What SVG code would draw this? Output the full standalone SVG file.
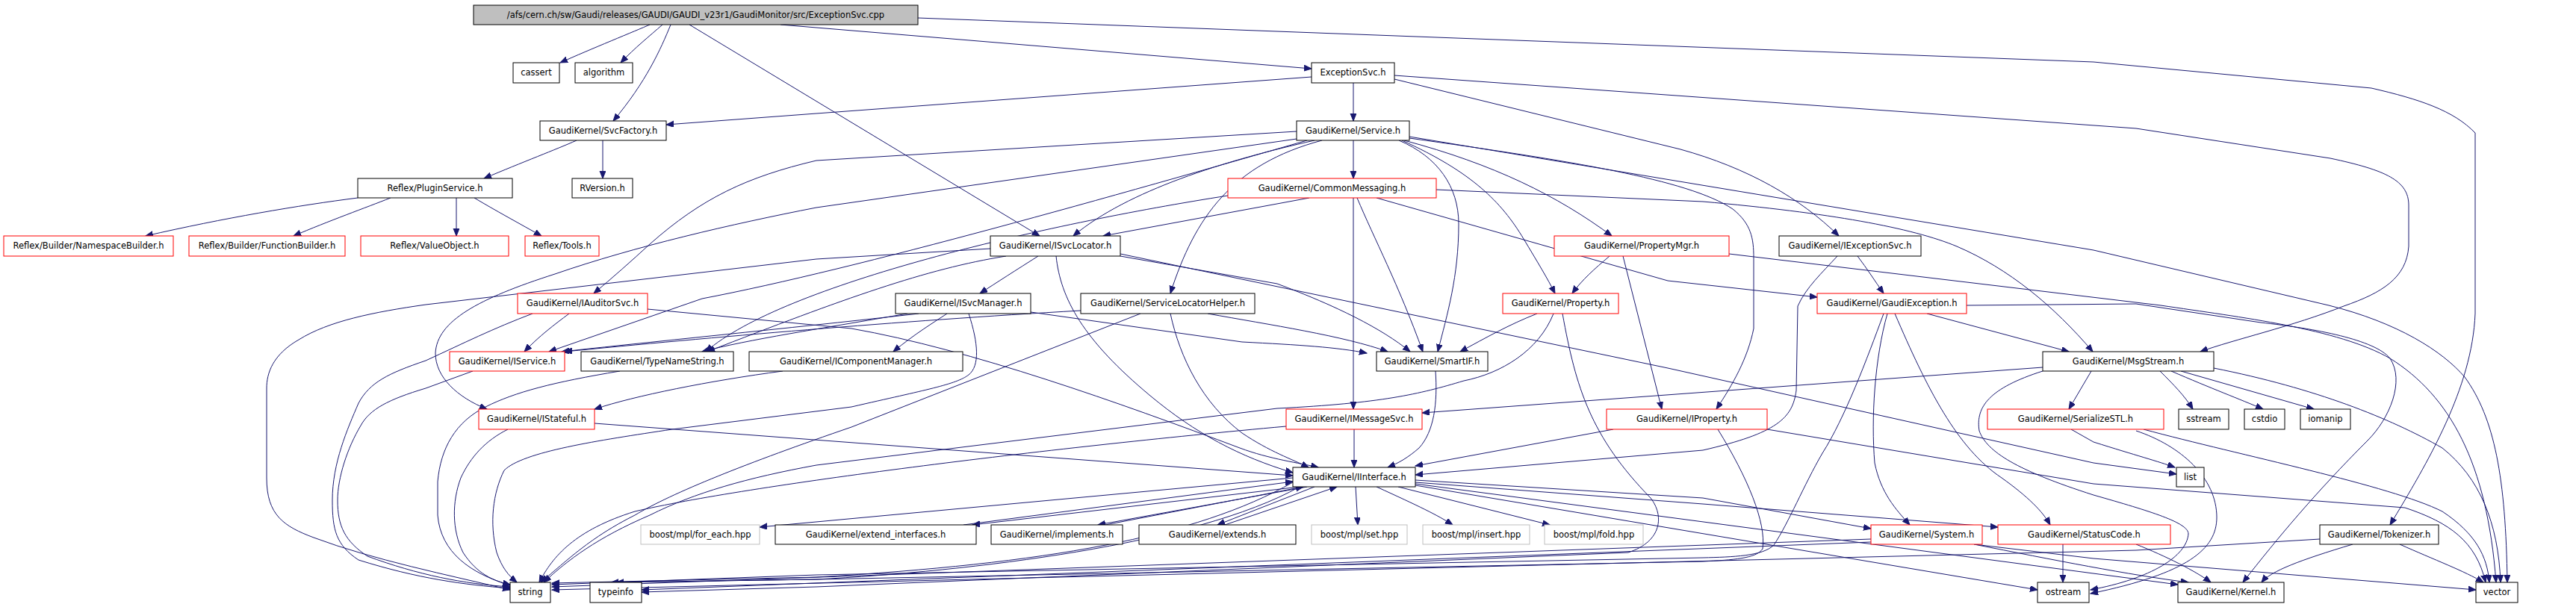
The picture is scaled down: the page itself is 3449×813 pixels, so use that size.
<svg xmlns="http://www.w3.org/2000/svg" width="3449" height="813" viewBox="0 0 3449 813">
<style>
.node rect{fill:#fff;stroke:#000;stroke-width:1}
.node.red rect{stroke:#f00}
.node.gray rect{stroke:#bfbfbf}
.node.root rect{fill:#bfbfbf}
.node text{font-family:"DejaVu Sans","Liberation Sans",sans-serif;font-size:11.5px;text-anchor:middle;fill:#000}
#edges path{fill:none;stroke:#191970;stroke-width:1;marker-end:url(#ah)}
</style>
<defs>
<marker id="ah" markerUnits="userSpaceOnUse" markerWidth="11" markerHeight="9" refX="10" refY="4" orient="auto"><path d="M0,0 L10,4 L0,8 z" fill="#191970" stroke="#191970"/></marker>
</defs>
<rect width="3449" height="813" fill="#fff"/>
<g id="edges">
<path d="M870,33 C852,41 790,66 750,84"/>
<path d="M887,33 C870,48 850,64 831,84"/>
<path d="M898,33 C885,65 865,110 821,162"/>
<path d="M923,33 L1392,316"/>
<path d="M1045,33 L1756,92"/>
<path d="M1229,24 L2803,83 L3175,118 C3240,133 3285,148 3314,178 L3314,420 C3310,520 3250,620 3200,703"/>
<path d="M1756,103 L1093,152 L892,167"/>
<path d="M1812,111 L1812,162"/>
<path d="M1867,106 L2250,200 C2340,225 2410,265 2462,316"/>
<path d="M1867,101 L2860,172 L3120,212 C3195,228 3225,242 3225,275 L3225,330 C3222,372 3190,392 3138,410 C3070,437 2990,455 2946,471"/>
<path d="M772,188 C745,200 700,217 648,239"/>
<path d="M807,188 L807,239"/>
<path d="M479,265 C400,275 300,292 195,316"/>
<path d="M523,265 C490,278 440,296 393,316"/>
<path d="M611,265 L611,316"/>
<path d="M635,265 C660,280 700,302 725,316"/>
<path d="M1812,188 L1812,239"/>
<path d="M1736,176 L1093,215 C1000,237 940,265 870,327 C845,350 820,372 795,393"/>
<path d="M1736,186 L1093,278 C980,300 850,330 743,367 C640,400 585,430 583,473 C583,505 612,532 652,548"/>
<path d="M1750,188 C1500,260 1150,360 940,400 L735,471"/>
<path d="M1760,188 C1640,215 1510,255 1437,316"/>
<path d="M1770,188 C1650,220 1600,290 1567,393"/>
<path d="M1873,188 C1925,210 1953,250 1953,300 C1953,370 1938,420 1925,471"/>
<path d="M1877,188 C1970,230 2010,270 2040,320 C2058,350 2072,373 2082,393"/>
<path d="M1880,188 C2000,220 2085,262 2158,316"/>
<path d="M1887,185 C2100,215 2260,240 2320,280 C2345,300 2348,320 2348,345 L2348,440 C2340,480 2320,515 2298,548"/>
<path d="M1887,183 L2803,335 L3118,409 C3210,432 3270,470 3300,505 C3340,560 3355,640 3357,780"/>
<path d="M1753,265 L1477,316"/>
<path d="M1812,265 L1812,548"/>
<path d="M1817,265 C1840,320 1872,380 1905,471"/>
<path d="M1923,254 L2280,270 C2450,285 2560,305 2620,330 C2690,360 2750,410 2802,471"/>
<path d="M1843,265 L2233,376 L2433,398"/>
<path d="M1644,262 C1400,300 1050,380 945,471"/>
<path d="M1326,333 L1093,347 L570,408 C500,418 440,430 400,455 C365,475 357,500 357,520 L357,640 C357,690 380,705 420,720 C500,750 600,770 683,790"/>
<path d="M1390,343 C1360,362 1335,378 1312,393"/>
<path d="M1347,343 C1240,360 1130,400 947,471"/>
<path d="M1500,343 L1710,380 C1790,410 1850,440 1888,471"/>
<path d="M1500,340 L2233,493 L2803,620 L2914,635"/>
<path d="M1414,343 C1420,400 1450,455 1540,530 C1600,580 1660,612 1731,633"/>
<path d="M1268,420 C1250,432 1225,447 1196,471"/>
<path d="M1297,420 C1310,460 1312,490 1297,502 C1280,515 1240,522 1140,545 L900,575 C800,590 700,605 675,630 C660,660 655,700 665,740 C672,760 680,770 692,780"/>
<path d="M1215,420 C1100,440 1000,455 940,471"/>
<path d="M1230,420 C1100,435 900,455 752,471"/>
<path d="M1380,418 L1663,458 C1740,462 1790,465 1830,473"/>
<path d="M1048,497 C950,510 850,530 796,548"/>
<path d="M762,420 C742,435 722,450 702,471"/>
<path d="M713,420 C660,440 620,460 570,483 C520,500 495,512 480,540 C465,575 445,620 445,670 C445,710 450,730 480,750 C560,775 620,783 683,788"/>
<path d="M867,414 L1140,440 C1300,468 1500,540 1660,600 C1700,615 1740,620 1765,626"/>
<path d="M1527,420 L1140,572 C1000,620 900,660 850,690 C790,720 760,750 724,780"/>
<path d="M1617,420 C1700,435 1800,450 1858,471"/>
<path d="M1447,416 C1200,430 950,452 756,471"/>
<path d="M1567,420 C1580,480 1610,540 1663,580 C1700,605 1730,615 1752,626"/>
<path d="M633,497 L570,520 C520,535 495,548 483,570 C465,600 452,640 452,670 C452,705 462,725 492,745 C560,770 620,782 683,786"/>
<path d="M830,497 C740,512 690,525 650,545 C610,565 590,600 586,645 L586,690 C590,740 630,768 683,784"/>
<path d="M1922,497 C1925,540 1920,578 1900,600 C1885,613 1873,620 1858,626"/>
<path d="M680,575 C650,590 630,612 617,640 C605,672 605,710 620,740 C638,768 660,778 683,783"/>
<path d="M796,567 L1731,637"/>
<path d="M1813,575 L1813,626"/>
<path d="M1722,571 C1400,600 1000,650 850,685 C770,710 740,745 722,780"/>
<path d="M2058,420 C2020,435 1990,452 1955,471"/>
<path d="M2080,420 C2060,470 2010,500 1960,510 C1900,528 1850,540 1710,547 L1093,623 C1000,640 930,660 870,690 C800,720 760,750 728,780"/>
<path d="M2092,420 C2110,520 2130,585 2210,667 C2228,690 2226,725 2180,740 L1093,786 L859,793"/>
<path d="M2155,343 C2135,360 2118,375 2105,393"/>
<path d="M2173,343 L2225,548"/>
<path d="M2315,340 L2893,409 C3000,425 3130,440 3200,480 C3280,530 3330,620 3342,780"/>
<path d="M2487,343 C2500,360 2510,376 2522,393"/>
<path d="M2460,343 C2440,365 2418,385 2407,410 L2405,523 C2400,560 2380,580 2280,603 L1895,636"/>
<path d="M2580,420 L2770,471"/>
<path d="M2633,409 L2860,407 L3027,432 C3100,440 3180,455 3200,480 C3220,510 3200,560 3170,590 C3100,660 3050,720 3003,780"/>
<path d="M2527,420 C2510,480 2505,560 2510,620 C2518,660 2538,682 2557,703"/>
<path d="M2537,420 C2580,520 2620,600 2680,640 C2715,665 2735,685 2745,703"/>
<path d="M2522,420 C2500,480 2470,560 2440,607 C2415,650 2395,700 2375,730 C2360,745 2320,746 2280,747 L1093,770 L739,783"/>
<path d="M2735,492 L1904,553"/>
<path d="M2800,497 L2770,548"/>
<path d="M2892,497 C2910,515 2925,530 2936,548"/>
<path d="M2907,497 C2960,520 3000,535 3030,548"/>
<path d="M2920,497 L3098,548"/>
<path d="M2964,493 C3100,520 3200,560 3270,600 C3320,640 3345,700 3348,780"/>
<path d="M2735,497 C2663,520 2645,545 2650,577 C2660,605 2700,630 2803,663 C2880,685 2930,700 2930,715 C2928,745 2880,775 2799,790"/>
<path d="M2773,575 L2803,592 C2860,610 2890,618 2912,626"/>
<path d="M2870,575 C3000,610 3200,650 3270,685 C3315,715 3330,745 3333,780"/>
<path d="M2860,577 C2920,597 2968,640 2968,693 C2968,735 2930,768 2799,795"/>
<path d="M2160,575 L1895,624"/>
<path d="M2300,575 C2340,640 2365,700 2360,735 C2352,748 2320,750 2280,752 L1093,776 L825,780"/>
<path d="M2366,575 L2803,648 L3220,680 C3280,700 3315,725 3328,780"/>
<path d="M1731,640 L1017,706"/>
<path d="M1740,652 L1302,703"/>
<path d="M1290,703 L1731,645"/>
<path d="M1750,652 L1470,703"/>
<path d="M1480,703 L1745,652"/>
<path d="M1760,652 L1630,703"/>
<path d="M1640,703 L1790,652"/>
<path d="M1815,652 L1818,703"/>
<path d="M1843,652 C1900,678 1925,690 1945,703"/>
<path d="M1872,652 L2075,703"/>
<path d="M1895,643 L2280,667 L2505,708"/>
<path d="M1895,646 L2280,675 L2675,706"/>
<path d="M1895,650 L2728,790"/>
<path d="M1895,648 L2916,783"/>
<path d="M1731,646 C1600,720 1400,755 1093,773 L739,781"/>
<path d="M1740,652 C1600,730 1300,765 1093,776 L818,780"/>
<path d="M2643,729 C2750,750 2850,770 2930,780"/>
<path d="M2505,722 L739,786"/>
<path d="M2505,726 L859,790"/>
<path d="M2643,729 L2803,748 L3315,790"/>
<path d="M2762,729 L2762,780"/>
<path d="M2860,729 C2900,745 2940,765 2960,780"/>
<path d="M3106,722 L2860,737 L739,790"/>
<path d="M3150,729 C3080,750 3040,765 3028,780"/>
<path d="M3213,729 C3260,750 3300,765 3325,780"/>
</g>
<g id="n_root" class="node root"><rect x="634" y="7" width="595" height="26"/><text x="931.5" y="24">/afs/cern.ch/sw/Gaudi/releases/GAUDI/GAUDI_v23r1/GaudiMonitor/src/ExceptionSvc.cpp</text></g>
<g id="n_cassert" class="node"><rect x="687" y="84" width="62" height="27"/><text x="718" y="101">cassert</text></g>
<g id="n_algorithm" class="node"><rect x="770" y="84" width="77" height="27"/><text x="808.5" y="101">algorithm</text></g>
<g id="n_ExceptionSvc" class="node"><rect x="1756" y="84" width="111" height="27"/><text x="1811.5" y="101">ExceptionSvc.h</text></g>
<g id="n_SvcFactory" class="node"><rect x="723" y="162" width="169" height="26"/><text x="807.5" y="179">GaudiKernel/SvcFactory.h</text></g>
<g id="n_Service" class="node"><rect x="1736" y="162" width="151" height="26"/><text x="1811.5" y="179">GaudiKernel/Service.h</text></g>
<g id="n_PluginService" class="node"><rect x="479" y="239" width="207" height="26"/><text x="582.5" y="256">Reflex/PluginService.h</text></g>
<g id="n_RVersion" class="node"><rect x="766" y="239" width="81" height="26"/><text x="806.5" y="256">RVersion.h</text></g>
<g id="n_CommonMessaging" class="node red"><rect x="1644" y="239" width="279" height="26"/><text x="1783.5" y="256">GaudiKernel/CommonMessaging.h</text></g>
<g id="n_NamespaceBuilder" class="node red"><rect x="5" y="316" width="227" height="27"/><text x="118.5" y="333">Reflex/Builder/NamespaceBuilder.h</text></g>
<g id="n_FunctionBuilder" class="node red"><rect x="253" y="316" width="209" height="27"/><text x="357.5" y="333">Reflex/Builder/FunctionBuilder.h</text></g>
<g id="n_ValueObject" class="node red"><rect x="483" y="316" width="198" height="27"/><text x="582" y="333">Reflex/ValueObject.h</text></g>
<g id="n_Tools" class="node red"><rect x="703" y="316" width="99" height="27"/><text x="752.5" y="333">Reflex/Tools.h</text></g>
<g id="n_ISvcLocator" class="node"><rect x="1326" y="316" width="174" height="27"/><text x="1413" y="333">GaudiKernel/ISvcLocator.h</text></g>
<g id="n_PropertyMgr" class="node red"><rect x="2081" y="316" width="234" height="27"/><text x="2198" y="333">GaudiKernel/PropertyMgr.h</text></g>
<g id="n_IExceptionSvc" class="node"><rect x="2382" y="316" width="190" height="27"/><text x="2477" y="333">GaudiKernel/IExceptionSvc.h</text></g>
<g id="n_IAuditorSvc" class="node red"><rect x="693" y="393" width="174" height="27"/><text x="780" y="410">GaudiKernel/IAuditorSvc.h</text></g>
<g id="n_ISvcManager" class="node"><rect x="1199" y="393" width="181" height="27"/><text x="1289.5" y="410">GaudiKernel/ISvcManager.h</text></g>
<g id="n_ServiceLocatorHelper" class="node"><rect x="1447" y="393" width="233" height="27"/><text x="1563.5" y="410">GaudiKernel/ServiceLocatorHelper.h</text></g>
<g id="n_Property" class="node red"><rect x="2012" y="393" width="155" height="27"/><text x="2089.5" y="410">GaudiKernel/Property.h</text></g>
<g id="n_GaudiException" class="node red"><rect x="2433" y="393" width="200" height="27"/><text x="2533" y="410">GaudiKernel/GaudiException.h</text></g>
<g id="n_IService" class="node red"><rect x="602" y="471" width="154" height="26"/><text x="679" y="488">GaudiKernel/IService.h</text></g>
<g id="n_TypeNameString" class="node"><rect x="778" y="471" width="204" height="26"/><text x="880" y="488">GaudiKernel/TypeNameString.h</text></g>
<g id="n_IComponentManager" class="node"><rect x="1003" y="471" width="286" height="26"/><text x="1146" y="488">GaudiKernel/IComponentManager.h</text></g>
<g id="n_SmartIF" class="node"><rect x="1843" y="471" width="149" height="26"/><text x="1917.5" y="488">GaudiKernel/SmartIF.h</text></g>
<g id="n_MsgStream" class="node"><rect x="2735" y="471" width="229" height="26"/><text x="2849.5" y="488">GaudiKernel/MsgStream.h</text></g>
<g id="n_IStateful" class="node red"><rect x="641" y="548" width="155" height="27"/><text x="718.5" y="565">GaudiKernel/IStateful.h</text></g>
<g id="n_IMessageSvc" class="node red"><rect x="1722" y="548" width="182" height="27"/><text x="1813" y="565">GaudiKernel/IMessageSvc.h</text></g>
<g id="n_IProperty" class="node red"><rect x="2151" y="548" width="215" height="27"/><text x="2258.5" y="565">GaudiKernel/IProperty.h</text></g>
<g id="n_SerializeSTL" class="node red"><rect x="2661" y="548" width="236" height="27"/><text x="2779" y="565">GaudiKernel/SerializeSTL.h</text></g>
<g id="n_sstream" class="node"><rect x="2917" y="548" width="67" height="27"/><text x="2950.5" y="565">sstream</text></g>
<g id="n_cstdio" class="node"><rect x="3005" y="548" width="54" height="27"/><text x="3032" y="565">cstdio</text></g>
<g id="n_iomanip" class="node"><rect x="3080" y="548" width="67" height="27"/><text x="3113.5" y="565">iomanip</text></g>
<g id="n_IInterface" class="node"><rect x="1731" y="626" width="164" height="26"/><text x="1813" y="643">GaudiKernel/IInterface.h</text></g>
<g id="n_list" class="node"><rect x="2914" y="626" width="37" height="26"/><text x="2932.5" y="643">list</text></g>
<g id="n_for_each" class="node gray"><rect x="858" y="703" width="159" height="26"/><text x="937.5" y="720">boost/mpl/for_each.hpp</text></g>
<g id="n_extend_interfaces" class="node"><rect x="1038" y="703" width="269" height="26"/><text x="1172.5" y="720">GaudiKernel/extend_interfaces.h</text></g>
<g id="n_implements" class="node"><rect x="1327" y="703" width="176" height="26"/><text x="1415" y="720">GaudiKernel/implements.h</text></g>
<g id="n_extends" class="node"><rect x="1525" y="703" width="210" height="26"/><text x="1630" y="720">GaudiKernel/extends.h</text></g>
<g id="n_set" class="node gray"><rect x="1756" y="703" width="128" height="26"/><text x="1820" y="720">boost/mpl/set.hpp</text></g>
<g id="n_insert" class="node gray"><rect x="1905" y="703" width="143" height="26"/><text x="1976.5" y="720">boost/mpl/insert.hpp</text></g>
<g id="n_fold" class="node gray"><rect x="2068" y="703" width="132" height="26"/><text x="2134" y="720">boost/mpl/fold.hpp</text></g>
<g id="n_System" class="node red"><rect x="2505" y="703" width="149" height="26"/><text x="2579.5" y="720">GaudiKernel/System.h</text></g>
<g id="n_StatusCode" class="node red"><rect x="2675" y="703" width="231" height="26"/><text x="2790.5" y="720">GaudiKernel/StatusCode.h</text></g>
<g id="n_Tokenizer" class="node"><rect x="3106" y="703" width="159" height="26"/><text x="3185.5" y="720">GaudiKernel/Tokenizer.h</text></g>
<g id="n_string" class="node"><rect x="683" y="780" width="54" height="27"/><text x="710" y="797">string</text></g>
<g id="n_typeinfo" class="node"><rect x="790" y="780" width="69" height="27"/><text x="824.5" y="797">typeinfo</text></g>
<g id="n_ostream" class="node"><rect x="2728" y="780" width="69" height="27"/><text x="2762.5" y="797">ostream</text></g>
<g id="n_Kernel" class="node"><rect x="2916" y="780" width="142" height="27"/><text x="2987" y="797">GaudiKernel/Kernel.h</text></g>
<g id="n_vector" class="node"><rect x="3315" y="780" width="56" height="27"/><text x="3343" y="797">vector</text></g>
</svg>
